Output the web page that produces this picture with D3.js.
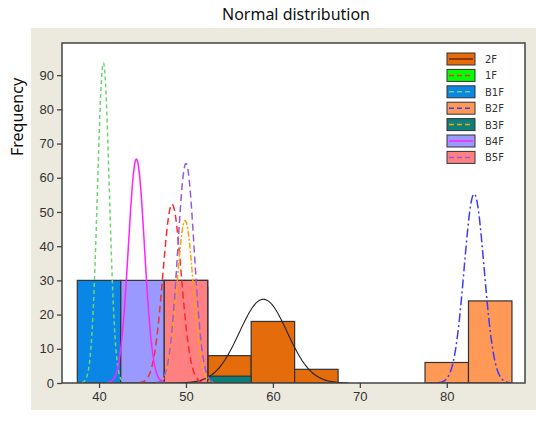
<!DOCTYPE html>
<html>
<head>
<meta charset="utf-8">
<script src="https://cdn.jsdelivr.net/npm/d3@7"></script>
<style>
  body { margin: 0; background: #fff; }
  text { font-family: "DejaVu Sans", sans-serif; }
</style>
</head>
<body>
<svg id="chart" width="536" height="424"></svg>
<script>
// series names, in legend / drawing order
const seriesNames = ['2F', '1F', 'B1F', 'B2F', 'B3F', 'B4F', 'B5F'];

// histogram bins per series: [from, to, count]
const bins2F  = [[52.5, 57.5, 8], [57.5, 62.5, 18], [62.5, 67.5, 4]];
const bins1F  = [[47.5, 52.5, 30]];
const binsB1F = [[37.5, 42.5, 30]];
const binsB2F = [[77.5, 82.5, 6], [82.5, 87.5, 24]];
const binsB3F = [[47.5, 52.5, 28], [52.5, 57.5, 2]];
const binsB4F = [[42.5, 47.5, 30]];
const binsB5F = [[47.5, 52.5, 30]];
const seriesBins = [bins2F, bins1F, binsB1F, binsB2F, binsB3F, binsB4F, binsB5F];

// fitted normal curves: mean, sd, peak height
const curveMeans = [58.9, 48.4, 40.5, 83.15, 49.9, 44.3, 50.0];
const curveSds   = [2.75, 1.06, 0.68, 1.15, 0.93, 0.93, 0.95];
const curvePeaks = [24.5, 52.3, 93.6, 55.3, 47.5, 65.5, 64.2];

const xTicks = [40, 50, 60, 70, 80];
const yTicks = [0, 10, 20, 30, 40, 50, 60, 70, 80, 90];

// styles
const fillColours = ['#e46c0a', '#00ff00', '#0a86e6', '#ff9955', '#0b7f7a', '#9999ff', '#ff8080'];
const lineColours = ['#222222', '#ff2a2a', '#6fd66f', '#3b3bff', '#ffa500', '#ff22ff', '#9a5ad8'];
const lineDashes  = [null, '7,4', '4,3', '9,3,2,3', '6,2,2,2', null, '7,4'];

const svg = d3.select('#chart');

// beige panel
svg.append('rect').attr('x', 31).attr('y', 28).attr('width', 505).attr('height', 382).attr('fill', '#ece9df');

const plot = { left: 62, right: 525, top: 43, bottom: 383 };
const x = d3.scaleLinear().domain([35.74, 89.0]).range([plot.left, plot.right]);
const y = d3.scaleLinear().domain([0, 99.4]).range([plot.bottom, plot.top]);

svg.append('rect')
  .attr('x', plot.left).attr('y', plot.top)
  .attr('width', plot.right - plot.left).attr('height', plot.bottom - plot.top)
  .attr('fill', '#fff');

svg.append('clipPath').attr('id', 'clip')
  .append('rect')
  .attr('x', plot.left).attr('y', plot.top)
  .attr('width', plot.right - plot.left).attr('height', plot.bottom - plot.top);

const g = svg.append('g').attr('clip-path', 'url(#clip)');

// bars
seriesNames.forEach((name, i) => {
  g.selectAll('rect.bar-' + i).data(seriesBins[i])
    .enter().append('rect')
      .attr('class', 'bar-' + i)
      .attr('x', d => x(d[0]))
      .attr('width', d => x(d[1]) - x(d[0]))
      .attr('y', d => y(d[2]))
      .attr('height', d => y(0) - y(d[2]))
      .attr('fill', fillColours[i])
      .attr('stroke', '#333')
      .attr('stroke-width', 1.2);
});

// normal curves
const line = d3.line().x(d => x(d[0])).y(d => y(d[1])).curve(d3.curveBasis);
seriesNames.forEach((name, i) => {
  const m = curveMeans[i], s = curveSds[i], p = curvePeaks[i];
  const pts = d3.range(m - 3.6 * s, m + 3.6 * s, s / 20)
    .map(v => [v, p * Math.exp(-0.5 * ((v - m) / s) ** 2)]);
  g.append('path')
    .attr('d', line(pts))
    .attr('fill', 'none')
    .attr('stroke', lineColours[i])
    .attr('stroke-width', i === 0 ? 1.1 : 1.5)
    .attr('stroke-dasharray', lineDashes[i]);
});

// plot frame
svg.append('rect')
  .attr('x', plot.left).attr('y', plot.top)
  .attr('width', plot.right - plot.left).attr('height', plot.bottom - plot.top)
  .attr('fill', 'none').attr('stroke', '#444').attr('stroke-width', 1.5);

// axes
const xAxis = svg.append('g').attr('transform', `translate(0,${plot.bottom})`)
  .call(d3.axisBottom(x).tickValues(xTicks).tickSize(5).tickPadding(4));
const yAxis = svg.append('g').attr('transform', `translate(${plot.left},0)`)
  .call(d3.axisLeft(y).tickValues(yTicks).tickSize(5).tickPadding(3));
[xAxis, yAxis].forEach(a => {
  a.select('.domain').remove();
  a.selectAll('line').attr('stroke', '#444').attr('stroke-width', 1.3);
  a.selectAll('text').attr('fill', '#333').style('font-size', '13px')
    .style('font-family', '"Liberation Sans", sans-serif');
});

// legend
const legend = svg.append('g').attr('transform', 'translate(447,53)');
seriesNames.forEach((name, i) => {
  const item = legend.append('g').attr('transform', `translate(0,${i * 16.4})`);
  item.append('rect').attr('width', 28).attr('height', 12)
    .attr('fill', fillColours[i]).attr('stroke', '#333').attr('stroke-width', 1);
  item.append('line').attr('x1', 2).attr('x2', 26).attr('y1', 6).attr('y2', 6)
    .attr('stroke', i === 0 ? '#6b2a00' : lineColours[i]).attr('stroke-width', 1.5)
    .attr('stroke-dasharray', lineDashes[i] ? '5,3' : null);
  item.append('text').attr('x', 38).attr('y', 10)
    .attr('fill', '#333').style('font-size', '10px').text(name);
});

// titles
svg.append('text').attr('x', 296).attr('y', 20).attr('text-anchor', 'middle')
  .style('font-size', '16px').style('font-family', '"Noto Sans", sans-serif').attr('fill', '#111')
  .text('Normal distribution');
svg.append('text').attr('transform', 'translate(23,117) rotate(-90)').attr('text-anchor', 'middle')
  .style('font-size', '16px').style('font-family', '"Noto Sans", sans-serif').attr('fill', '#111')
  .text('Frequency');
svg.append('text').attr('x', 240).attr('y', 436)
  .style('font-size', '16px').style('font-family', '"Noto Sans", sans-serif').attr('fill', '#111')
  .text('Coating of film');
</script>
</body>
</html>
